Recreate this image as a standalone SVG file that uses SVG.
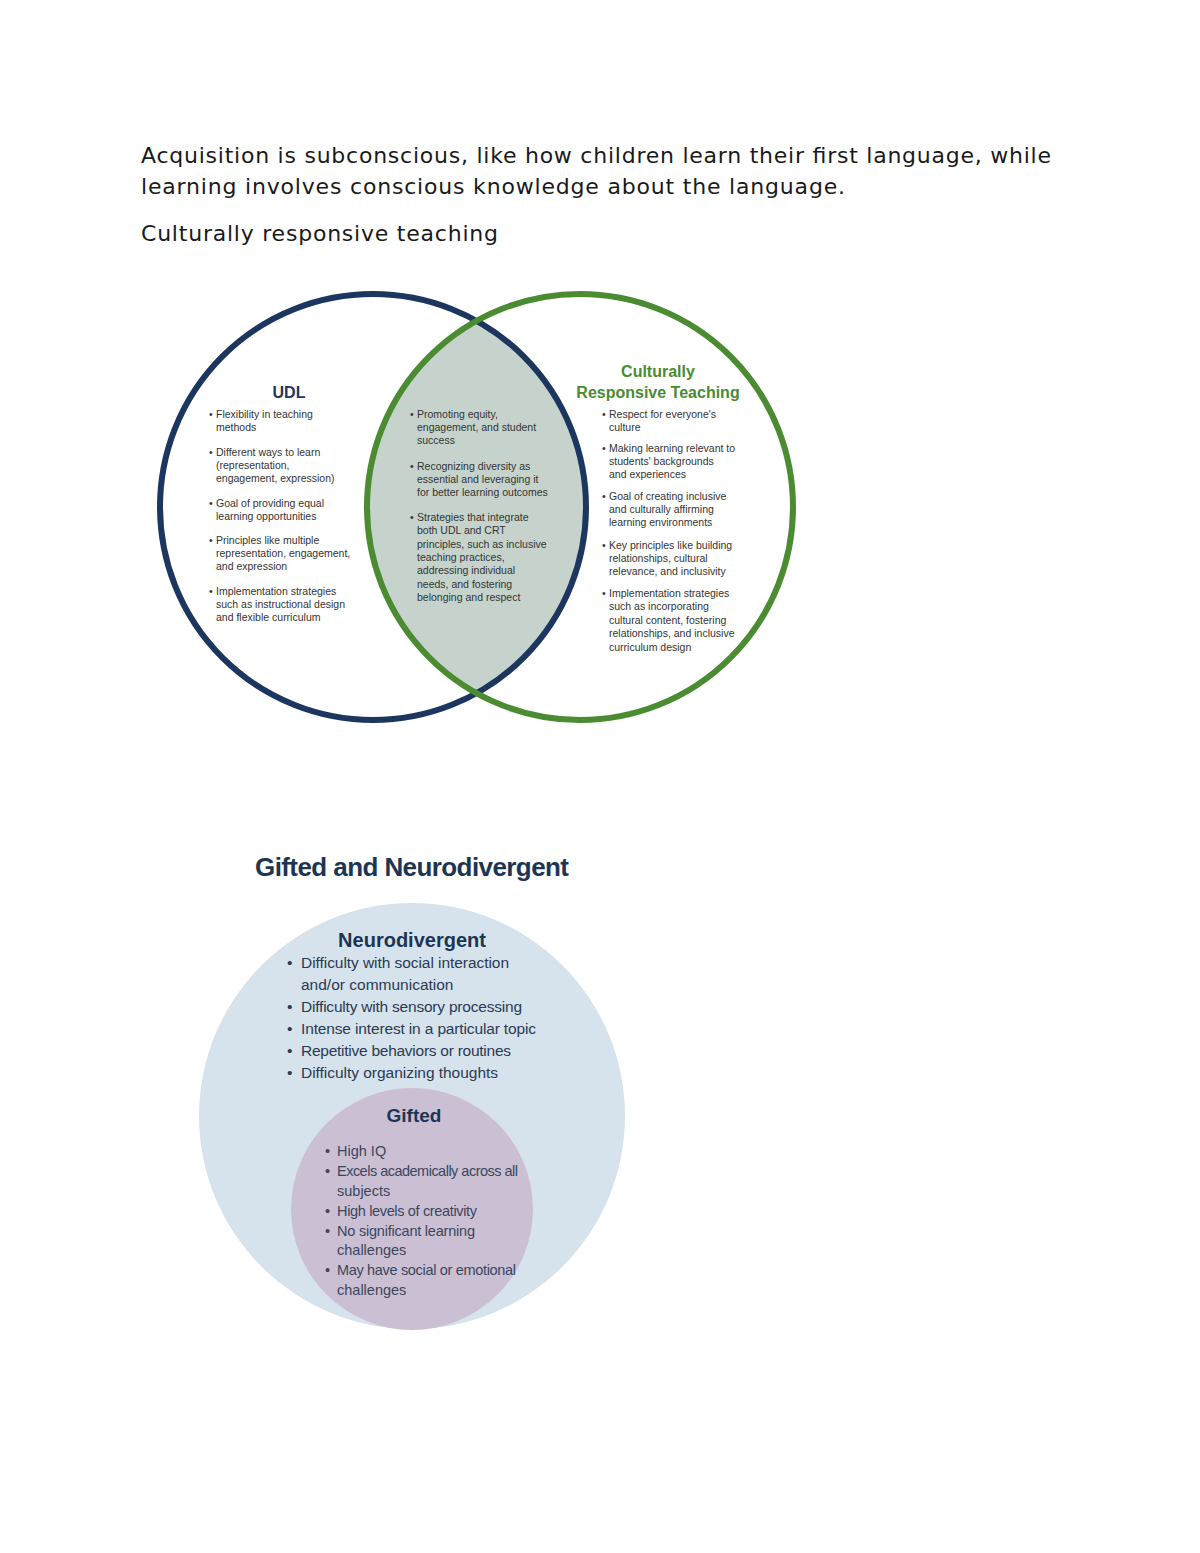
<svg xmlns="http://www.w3.org/2000/svg" width="1200" height="1553" viewBox="0 0 1200 1553">
<style>
.hdr{font-family:"DejaVu Sans",sans-serif;font-size:22px;fill:#1a1a1a}
.vt{font-family:"Liberation Sans",Arial,sans-serif;font-size:10.5px;fill:#333}
.vh{font-family:"Liberation Sans",Arial,sans-serif;font-weight:bold;font-size:16px;text-anchor:middle}
.gt{font-family:"Liberation Sans",Arial,sans-serif;font-size:15.5px;fill:#2b3a52}
.gs{font-family:"Liberation Sans",Arial,sans-serif;font-size:14.5px;fill:#3a4660}
.gh{font-family:"Liberation Sans",Arial,sans-serif;font-weight:bold;fill:#1d3554;text-anchor:middle}
</style>
<defs>
<clipPath id="clipL"><circle cx="373" cy="507" r="213"/></clipPath>
</defs>
<rect width="1200" height="1553" fill="#fff"/>
<g id="header">
<text class="hdr" x="141" y="163" textLength="910">Acquisition is subconscious, like how children learn their first language, while</text>
<text class="hdr" x="141" y="194" textLength="704">learning involves conscious knowledge about the language.</text>
<text class="hdr" x="141" y="241" textLength="357">Culturally responsive teaching</text>
</g>
<g id="venn-crt">
<circle id="overlap" cx="580" cy="507" r="213" fill="#c5d3cc" clip-path="url(#clipL)"/>
<g id="udl">
<circle cx="373" cy="507" r="213" fill="none" stroke="#1c3660" stroke-width="6"/>
<text class="vh" x="289" y="398" fill="#1c3660">UDL</text>
<g class="vt">
<text x="209" y="418">•</text><text x="216" y="418">Flexibility in teaching</text>
<text x="216" y="431">methods</text>
<text x="209" y="456">•</text><text x="216" y="456">Different ways to learn</text>
<text x="216" y="469">(representation,</text>
<text x="216" y="482">engagement, expression)</text>
<text x="209" y="507">•</text><text x="216" y="507">Goal of providing equal</text>
<text x="216" y="520">learning opportunities</text>
<text x="209" y="544">•</text><text x="216" y="544">Principles like multiple</text>
<text x="216" y="557">representation, engagement,</text>
<text x="216" y="570">and expression</text>
<text x="209" y="595">•</text><text x="216" y="595">Implementation strategies</text>
<text x="216" y="608">such as instructional design</text>
<text x="216" y="621">and flexible curriculum</text>
</g>
</g>
<g id="crt">
<circle cx="580" cy="507" r="213" fill="none" stroke="#4b8b32" stroke-width="6"/>
<text class="vh" x="658" y="377" fill="#4b8b32">Culturally</text>
<text class="vh" x="658" y="398" fill="#4b8b32">Responsive Teaching</text>
<g class="vt">
<text x="602" y="418">•</text><text x="609" y="418">Respect for everyone's</text>
<text x="609" y="431">culture</text>
<text x="602" y="452">•</text><text x="609" y="452">Making learning relevant to</text>
<text x="609" y="465">students' backgrounds</text>
<text x="609" y="478">and experiences</text>
<text x="602" y="500">•</text><text x="609" y="500">Goal of creating inclusive</text>
<text x="609" y="513">and culturally affirming</text>
<text x="609" y="526">learning environments</text>
<text x="602" y="549">•</text><text x="609" y="549">Key principles like building</text>
<text x="609" y="562">relationships, cultural</text>
<text x="609" y="575">relevance, and inclusivity</text>
<text x="602" y="597">•</text><text x="609" y="597">Implementation strategies</text>
<text x="609" y="610">such as incorporating</text>
<text x="609" y="624">cultural content, fostering</text>
<text x="609" y="637">relationships, and inclusive</text>
<text x="609" y="651">curriculum design</text>
</g>
</g>
<g id="both" class="vt">
<text x="410" y="418">•</text><text x="417" y="418">Promoting equity,</text>
<text x="417" y="431">engagement, and student</text>
<text x="417" y="444">success</text>
<text x="410" y="470">•</text><text x="417" y="470">Recognizing diversity as</text>
<text x="417" y="483">essential and leveraging it</text>
<text x="417" y="496">for better learning outcomes</text>
<text x="410" y="521">•</text><text x="417" y="521">Strategies that integrate</text>
<text x="417" y="534">both UDL and CRT</text>
<text x="417" y="548">principles, such as inclusive</text>
<text x="417" y="561">teaching practices,</text>
<text x="417" y="574">addressing individual</text>
<text x="417" y="588">needs, and fostering</text>
<text x="417" y="601">belonging and respect</text>
</g>
</g>
<g id="gifted-neuro">
<text class="gh" x="412" y="876" font-size="26" textLength="314">Gifted and Neurodivergent</text>
<g id="neurodivergent">
<circle cx="412" cy="1116" r="213" fill="#d6e3ec"/>
<text class="gh" x="412" y="947" font-size="20">Neurodivergent</text>
<g class="gt">
<text x="287" y="968">•</text><text x="301" y="968" textLength="208">Difficulty with social interaction</text>
<text x="301" y="990">and/or communication</text>
<text x="287" y="1012">•</text><text x="301" y="1012" textLength="221">Difficulty with sensory processing</text>
<text x="287" y="1034">•</text><text x="301" y="1034" textLength="235">Intense interest in a particular topic</text>
<text x="287" y="1056">•</text><text x="301" y="1056" textLength="210">Repetitive behaviors or routines</text>
<text x="287" y="1078">•</text><text x="301" y="1078" textLength="197">Difficulty organizing thoughts</text>
</g>
</g>
<g id="gifted">
<circle cx="412" cy="1209" r="121" fill="#cbc0d3"/>
<text class="gh" x="414" y="1122" font-size="19">Gifted</text>
<g class="gs">
<text x="325" y="1156">•</text><text x="337" y="1156">High IQ</text>
<text x="325" y="1176">•</text><text x="337" y="1176" textLength="181">Excels academically across all</text>
<text x="337" y="1196">subjects</text>
<text x="325" y="1216">•</text><text x="337" y="1216" textLength="140">High levels of creativity</text>
<text x="325" y="1236">•</text><text x="337" y="1236" textLength="138">No significant learning</text>
<text x="337" y="1255">challenges</text>
<text x="325" y="1275">•</text><text x="337" y="1275" textLength="179">May have social or emotional</text>
<text x="337" y="1295">challenges</text>
</g>
</g>
</g>
</svg>
